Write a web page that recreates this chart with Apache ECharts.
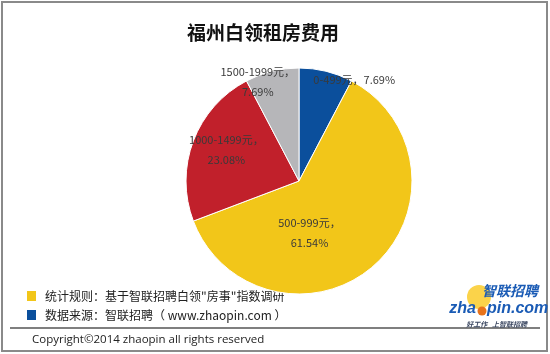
<!DOCTYPE html>
<html>
<head>
<meta charset="utf-8">
<script src="https://cdn.jsdelivr.net/npm/echarts@6/dist/echarts.min.js"></script>
<style>
  html, body { margin: 0; padding: 0; background: #fff; }
  #chart { width: 550px; height: 354px; }
</style>
</head>
<body>
<div id="chart"></div>
<script>
// rent ranges and share of white-collar workers (%)
const categories = ['0-499元', '500-999元', '1000-1499元', '1500-1999元']
const shares = [7.69, 61.54, 23.08, 7.69]
const sliceColors = ['#0b4f9c', '#f2c619', '#c1202b', '#b6b6b9']
// nudges to put labels where the original has them
const labelShift = [[41, -43], [-29, 7], [-17, -10], [-27, -41]]

const fontCJK = '"Noto Sans CJK SC", "Microsoft YaHei", sans-serif'

const chart = echarts.init(document.getElementById('chart'))

chart.setOption({
  backgroundColor: '#fff',
  animation: false,
  title: {
    text: '福州白领租房费用',
    left: 182,
    top: 18,
    textStyle: { fontFamily: fontCJK, fontSize: 19, fontWeight: 'bold', color: '#111' },
  },
  series: [
    {
      type: 'pie',
      center: [299, 181],
      radius: 113,
      startAngle: 90,
      clockwise: true,
      itemStyle: { borderColor: '#fff', borderWidth: 1 },
      label: {
        show: true,
        position: 'inside',
        fontFamily: fontCJK,
        fontSize: 11,
        lineHeight: 20,
        color: '#3a3a3a',
        formatter: (p) => (p.dataIndex === 0 ? p.name + '，' + p.percent + '%' : p.name + '，\n' + p.percent + '%'),
      },
      labelLayout: (p) => ({ dx: labelShift[p.dataIndex][0], dy: labelShift[p.dataIndex][1] }),
      data: categories.map((name, i) => ({
        name,
        value: shares[i],
        itemStyle: { color: sliceColors[i] },
      })),
    },
  ],
  graphic: [
    // outer frame
    { type: 'rect', shape: { x: 2, y: 2, width: 545, height: 349 }, style: { fill: 'none', stroke: '#8a8a8a', lineWidth: 2 } },
    // footer notes
    { type: 'rect', shape: { x: 27, y: 291, width: 9, height: 10 }, style: { fill: '#f2c619' } },
    { type: 'text', x: 45, y: 296, style: { text: '统计规则：基于智联招聘白领"房事"指数调研', fontFamily: fontCJK, fontSize: 12, fill: '#222', verticalAlign: 'middle' } },
    { type: 'rect', shape: { x: 27, y: 310, width: 9, height: 10 }, style: { fill: '#0b4f9c' } },
    { type: 'text', x: 45, y: 315, style: { text: '数据来源：智联招聘（ www.zhaopin.com ）', fontFamily: fontCJK, fontSize: 12, fill: '#222', verticalAlign: 'middle' } },
    { type: 'line', shape: { x1: 10, y1: 328, x2: 540, y2: 328 }, style: { stroke: '#555', lineWidth: 1.5 } },
    { type: 'text', x: 32, y: 340, style: { text: 'Copyright©2014 zhaopin all rights reserved', fontFamily: '"Open Sans", sans-serif', fontSize: 11.5, fill: '#222', verticalAlign: 'middle' } },
    // logo
    { type: 'circle', shape: { cx: 479, cy: 297, r: 12 }, style: { fill: '#fbd34a' } },
    { type: 'text', x: 538, y: 291, style: { text: '智联招聘', fontFamily: fontCJK, fontSize: 14, fontWeight: 'bold', fontStyle: 'italic', fill: '#1a5bb5', align: 'right', verticalAlign: 'middle' } },
    { type: 'text', x: 476, y: 309, style: { text: 'zha', fontFamily: '"Liberation Sans", sans-serif', fontSize: 16, fontWeight: 'bold', fontStyle: 'italic', fill: '#1a5bb5', align: 'right', verticalAlign: 'middle' } },
    { type: 'circle', shape: { cx: 482, cy: 311, r: 4.5 }, style: { fill: '#e8731a' } },
    { type: 'text', x: 487, y: 309, style: { text: 'pin.com', fontFamily: '"Liberation Sans", sans-serif', fontSize: 16, fontWeight: 'bold', fontStyle: 'italic', fill: '#1a5bb5', align: 'left', verticalAlign: 'middle' } },
    { type: 'text', x: 527, y: 324, style: { text: '好工作   上智联招聘', fontFamily: fontCJK, fontSize: 7, fontWeight: 'bold', fontStyle: 'italic', fill: '#3a4660', align: 'right', verticalAlign: 'middle' } },
  ],
})
</script>
</body>
</html>
